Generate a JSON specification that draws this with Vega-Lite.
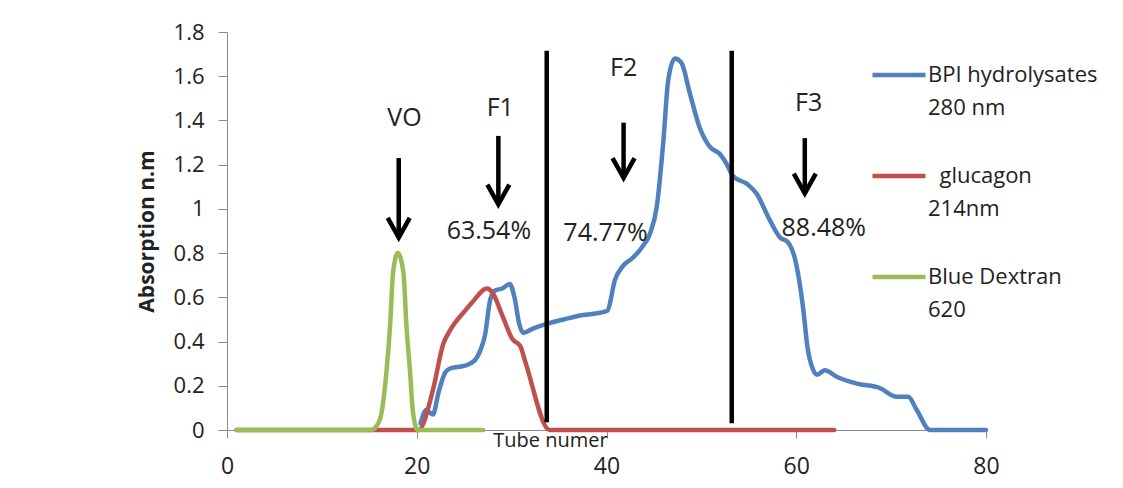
{
  "$schema": "https://vega.github.io/schema/vega-lite/v6.json",
  "width": 759,
  "height": 398,
  "autosize": {"type": "none"},
  "padding": {"left": 227, "top": 32, "right": 137, "bottom": 58},
  "background": "white",
  "config": {
    "font": "Open Sans",
    "view": {"stroke": null},
    "style": {"guide-label": {"lineHeight": 33}}
  },
  "datasets": {
    "curves": [
      {"series": "BPI hydrolysates 280 nm", "tube": 20.4, "absorbance": 0.03},
      {"series": "BPI hydrolysates 280 nm", "tube": 21.0, "absorbance": 0.09},
      {"series": "BPI hydrolysates 280 nm", "tube": 21.7, "absorbance": 0.07},
      {"series": "BPI hydrolysates 280 nm", "tube": 22.3, "absorbance": 0.17},
      {"series": "BPI hydrolysates 280 nm", "tube": 23.0, "absorbance": 0.26},
      {"series": "BPI hydrolysates 280 nm", "tube": 23.6, "absorbance": 0.28},
      {"series": "BPI hydrolysates 280 nm", "tube": 25.0, "absorbance": 0.29},
      {"series": "BPI hydrolysates 280 nm", "tube": 26.0, "absorbance": 0.31},
      {"series": "BPI hydrolysates 280 nm", "tube": 26.7, "absorbance": 0.36},
      {"series": "BPI hydrolysates 280 nm", "tube": 27.2, "absorbance": 0.43},
      {"series": "BPI hydrolysates 280 nm", "tube": 27.7, "absorbance": 0.58},
      {"series": "BPI hydrolysates 280 nm", "tube": 28.2, "absorbance": 0.63},
      {"series": "BPI hydrolysates 280 nm", "tube": 29.0, "absorbance": 0.64},
      {"series": "BPI hydrolysates 280 nm", "tube": 29.8, "absorbance": 0.66},
      {"series": "BPI hydrolysates 280 nm", "tube": 30.3, "absorbance": 0.6},
      {"series": "BPI hydrolysates 280 nm", "tube": 30.8, "absorbance": 0.48},
      {"series": "BPI hydrolysates 280 nm", "tube": 31.2, "absorbance": 0.44},
      {"series": "BPI hydrolysates 280 nm", "tube": 32.3, "absorbance": 0.46},
      {"series": "BPI hydrolysates 280 nm", "tube": 33.7, "absorbance": 0.48},
      {"series": "BPI hydrolysates 280 nm", "tube": 35.5, "absorbance": 0.5},
      {"series": "BPI hydrolysates 280 nm", "tube": 37.5, "absorbance": 0.52},
      {"series": "BPI hydrolysates 280 nm", "tube": 39.3, "absorbance": 0.53},
      {"series": "BPI hydrolysates 280 nm", "tube": 40.1, "absorbance": 0.54},
      {"series": "BPI hydrolysates 280 nm", "tube": 40.9, "absorbance": 0.68},
      {"series": "BPI hydrolysates 280 nm", "tube": 41.7, "absorbance": 0.74},
      {"series": "BPI hydrolysates 280 nm", "tube": 42.8, "absorbance": 0.78},
      {"series": "BPI hydrolysates 280 nm", "tube": 43.8, "absorbance": 0.83},
      {"series": "BPI hydrolysates 280 nm", "tube": 44.6, "absorbance": 0.89},
      {"series": "BPI hydrolysates 280 nm", "tube": 45.3, "absorbance": 1.01},
      {"series": "BPI hydrolysates 280 nm", "tube": 46.0, "absorbance": 1.31},
      {"series": "BPI hydrolysates 280 nm", "tube": 46.5, "absorbance": 1.58},
      {"series": "BPI hydrolysates 280 nm", "tube": 47.2, "absorbance": 1.68},
      {"series": "BPI hydrolysates 280 nm", "tube": 47.9, "absorbance": 1.66},
      {"series": "BPI hydrolysates 280 nm", "tube": 48.8, "absorbance": 1.52},
      {"series": "BPI hydrolysates 280 nm", "tube": 49.8, "absorbance": 1.37},
      {"series": "BPI hydrolysates 280 nm", "tube": 50.9, "absorbance": 1.28},
      {"series": "BPI hydrolysates 280 nm", "tube": 51.9, "absorbance": 1.25},
      {"series": "BPI hydrolysates 280 nm", "tube": 52.7, "absorbance": 1.2},
      {"series": "BPI hydrolysates 280 nm", "tube": 53.3, "absorbance": 1.15},
      {"series": "BPI hydrolysates 280 nm", "tube": 54.9, "absorbance": 1.11},
      {"series": "BPI hydrolysates 280 nm", "tube": 55.8, "absorbance": 1.07},
      {"series": "BPI hydrolysates 280 nm", "tube": 57.2, "absorbance": 0.95},
      {"series": "BPI hydrolysates 280 nm", "tube": 58.3, "absorbance": 0.87},
      {"series": "BPI hydrolysates 280 nm", "tube": 59.1, "absorbance": 0.85},
      {"series": "BPI hydrolysates 280 nm", "tube": 60.0, "absorbance": 0.75},
      {"series": "BPI hydrolysates 280 nm", "tube": 60.7, "absorbance": 0.56},
      {"series": "BPI hydrolysates 280 nm", "tube": 61.2, "absorbance": 0.37},
      {"series": "BPI hydrolysates 280 nm", "tube": 61.7, "absorbance": 0.28},
      {"series": "BPI hydrolysates 280 nm", "tube": 62.2, "absorbance": 0.25},
      {"series": "BPI hydrolysates 280 nm", "tube": 63.0, "absorbance": 0.27},
      {"series": "BPI hydrolysates 280 nm", "tube": 64.3, "absorbance": 0.24},
      {"series": "BPI hydrolysates 280 nm", "tube": 66.4, "absorbance": 0.21},
      {"series": "BPI hydrolysates 280 nm", "tube": 68.8, "absorbance": 0.19},
      {"series": "BPI hydrolysates 280 nm", "tube": 70.6, "absorbance": 0.15},
      {"series": "BPI hydrolysates 280 nm", "tube": 71.8, "absorbance": 0.15},
      {"series": "BPI hydrolysates 280 nm", "tube": 72.7, "absorbance": 0.09},
      {"series": "BPI hydrolysates 280 nm", "tube": 74.1, "absorbance": 0},
      {"series": "BPI hydrolysates 280 nm", "tube": 80, "absorbance": 0},
      {"series": "glucagon 214nm", "tube": 1, "absorbance": 0},
      {"series": "glucagon 214nm", "tube": 20.2, "absorbance": 0},
      {"series": "glucagon 214nm", "tube": 21.7, "absorbance": 0.18},
      {"series": "glucagon 214nm", "tube": 22.8, "absorbance": 0.39},
      {"series": "glucagon 214nm", "tube": 23.5, "absorbance": 0.45},
      {"series": "glucagon 214nm", "tube": 25.1, "absorbance": 0.54},
      {"series": "glucagon 214nm", "tube": 25.9, "absorbance": 0.58},
      {"series": "glucagon 214nm", "tube": 27.4, "absorbance": 0.64},
      {"series": "glucagon 214nm", "tube": 28.0, "absorbance": 0.62},
      {"series": "glucagon 214nm", "tube": 29.0, "absorbance": 0.52},
      {"series": "glucagon 214nm", "tube": 30.1, "absorbance": 0.41},
      {"series": "glucagon 214nm", "tube": 30.9, "absorbance": 0.38},
      {"series": "glucagon 214nm", "tube": 31.5, "absorbance": 0.3},
      {"series": "glucagon 214nm", "tube": 34.0, "absorbance": 0},
      {"series": "glucagon 214nm", "tube": 64, "absorbance": 0},
      {"series": "Blue Dextran 620", "tube": 1, "absorbance": 0},
      {"series": "Blue Dextran 620", "tube": 15.2, "absorbance": 0},
      {"series": "Blue Dextran 620", "tube": 15.8, "absorbance": 0.02},
      {"series": "Blue Dextran 620", "tube": 16.3, "absorbance": 0.08},
      {"series": "Blue Dextran 620", "tube": 16.8, "absorbance": 0.26},
      {"series": "Blue Dextran 620", "tube": 17.2, "absorbance": 0.48},
      {"series": "Blue Dextran 620", "tube": 17.5, "absorbance": 0.71},
      {"series": "Blue Dextran 620", "tube": 18.0, "absorbance": 0.8},
      {"series": "Blue Dextran 620", "tube": 18.6, "absorbance": 0.71},
      {"series": "Blue Dextran 620", "tube": 18.9, "absorbance": 0.48},
      {"series": "Blue Dextran 620", "tube": 19.3, "absorbance": 0.26},
      {"series": "Blue Dextran 620", "tube": 19.6, "absorbance": 0.08},
      {"series": "Blue Dextran 620", "tube": 20.1, "absorbance": 0},
      {"series": "Blue Dextran 620", "tube": 27, "absorbance": 0}
    ],
    "dividers": [
      {"tube": 33.7, "bottom": 0.035, "top": 1.715},
      {"tube": 53.2, "bottom": 0.03, "top": 1.715}
    ],
    "arrows": [
      {"label": "VO", "tube": 18.1, "top": 1.23, "tip": 0.87},
      {"label": "F1", "tube": 28.6, "top": 1.33, "tip": 1.02},
      {"label": "F2", "tube": 41.8, "top": 1.39, "tip": 1.14},
      {"label": "F3", "tube": 60.9, "top": 1.32, "tip": 1.07}
    ],
    "annotations": [
      {"text": "VO", "tube": 18.7, "absorbance": 1.41},
      {"text": "F1", "tube": 28.8, "absorbance": 1.455},
      {"text": "F2", "tube": 41.8, "absorbance": 1.638},
      {"text": "F3", "tube": 61.3, "absorbance": 1.48},
      {"text": "63.54%", "tube": 27.6, "absorbance": 0.898},
      {"text": "74.77%", "tube": 39.9, "absorbance": 0.89},
      {"text": "88.48%", "tube": 62.9, "absorbance": 0.914}
    ]
  },
  "layer": [
    {
      "data": {"name": "curves"},
      "mark": {"type": "line", "interpolate": "monotone", "strokeWidth": 4.5, "strokeCap": "round", "strokeJoin": "round"},
      "encoding": {
        "x": {
          "field": "tube", "type": "quantitative",
          "scale": {"domain": [0, 80], "nice": false},
          "axis": {
            "values": [0, 20, 40, 60, 80],
            "grid": false,
            "labelFlush": false,
            "domainColor": "#8c8c8c", "domainWidth": 1,
            "tickColor": "#8c8c8c", "tickSize": 8,
            "labelFontSize": 23, "labelColor": "#222222", "labelPadding": 17,
            "title": "Tube numer", "titleFontSize": 20, "titleFontWeight": "normal", "titleColor": "#222222",
            "titleX": 323, "titleY": 16, "titleAlign": "center", "titleBaseline": "alphabetic"
          }
        },
        "y": {
          "field": "absorbance", "type": "quantitative",
          "scale": {"domain": [0, 1.8], "nice": false},
          "axis": {
            "values": [0, 0.2, 0.4, 0.6, 0.8, 1, 1.2, 1.4, 1.6, 1.8],
            "format": "~g",
            "grid": false,
            "labelFlush": false,
            "domainColor": "#8c8c8c", "domainWidth": 1,
            "tickColor": "#8c8c8c", "tickSize": 9,
            "labelFontSize": 22, "labelColor": "#222222", "labelPadding": 14,
            "title": "Absorption n.m", "titleFontSize": 21, "titleFontWeight": "bold", "titleColor": "#222222",
            "titleX": -80, "titleY": 199, "titleAngle": 270, "titleAlign": "center", "titleBaseline": "middle"
          }
        },
        "color": {
          "field": "series", "type": "nominal",
          "scale": {
            "domain": ["BPI hydrolysates 280 nm", "glucagon 214nm", "Blue Dextran 620"],
            "range": ["#4F81BD", "#C0504D", "#9BBB59"]
          },
          "legend": {
            "orient": "none", "legendX": 643, "legendY": 14,
            "title": null,
            "symbolType": "stroke", "symbolSize": 2809, "symbolStrokeWidth": 4.5,
            "labelFontSize": 22, "labelColor": "#222222", "labelOffset": 0, "labelLimit": 400,
            "labelBaseline": "middle",
            "rowPadding": 28,
            "labelExpr": "datum.label == 'BPI hydrolysates 280 nm' ? ['BPI hydrolysates', '280 nm'] : datum.label == 'glucagon 214nm' ? ['\u200b\u00a0\u00a0glucagon', '214nm'] : ['Blue Dextran', '620']"
          }
        }
      }
    },
    {
      "data": {"name": "dividers"},
      "mark": {"type": "rule", "strokeWidth": 4.5, "color": "black"},
      "encoding": {
        "x": {"field": "tube", "type": "quantitative"},
        "y": {"field": "bottom", "type": "quantitative"},
        "y2": {"field": "top"}
      }
    },
    {
      "data": {"name": "arrows"},
      "mark": {"type": "rule", "strokeWidth": 4.5, "color": "black"},
      "encoding": {
        "x": {"field": "tube", "type": "quantitative"},
        "y": {"field": "top", "type": "quantitative"},
        "y2": {"field": "tip"}
      }
    },
    {
      "data": {"name": "arrows"},
      "mark": {"type": "point", "shape": "M-1,-1.8L0,0L1,-1.8", "filled": false, "strokeWidth": 4.5, "color": "black", "opacity": 1, "size": 484, "strokeJoin": "miter"},
      "encoding": {
        "x": {"field": "tube", "type": "quantitative"},
        "y": {"field": "tip", "type": "quantitative"}
      }
    },
    {
      "data": {"name": "annotations"},
      "mark": {"type": "text", "fontSize": 25, "color": "#222222", "baseline": "middle", "align": "center"},
      "encoding": {
        "x": {"field": "tube", "type": "quantitative"},
        "y": {"field": "absorbance", "type": "quantitative"},
        "text": {"field": "text", "type": "nominal"}
      }
    }
  ]
}
